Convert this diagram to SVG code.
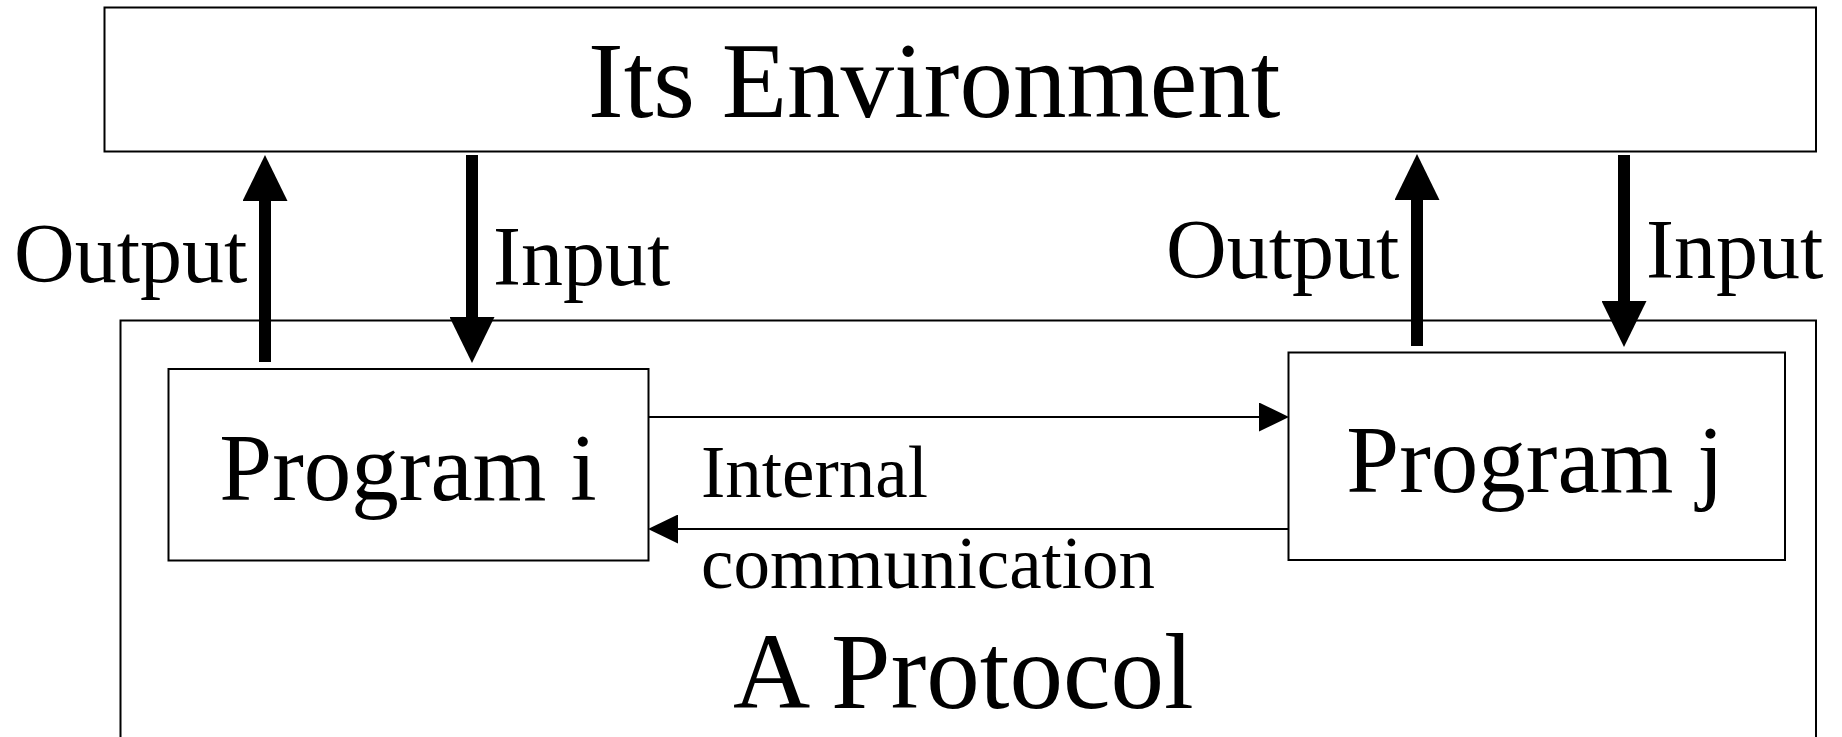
<svg xmlns="http://www.w3.org/2000/svg" width="1842" height="737" viewBox="0 0 1842 737">
<style>
.box{fill:#fff;stroke:#000;stroke-width:2}
.t{font-family:"Liberation Serif","Times New Roman",serif;fill:#000}
.thick{stroke:#000;stroke-width:12;fill:none}
.thin{stroke:#000;stroke-width:2;fill:none}
</style>
<defs>
<marker id="big" viewBox="0 0 46 45" refX="0" refY="22.5" markerWidth="46" markerHeight="45" markerUnits="userSpaceOnUse" orient="auto"><path d="M0,0 L46,22.5 L0,45 z" fill="#000"/></marker>
<marker id="small" viewBox="0 0 30 29" refX="0" refY="14.5" markerWidth="30" markerHeight="29" markerUnits="userSpaceOnUse" orient="auto"><path d="M0,0 L30,14.5 L0,29 z" fill="#000"/></marker>
</defs>
<rect width="1842" height="737" fill="#fff"/>
<g id="environment">
<rect class="box" x="104.5" y="7.5" width="1711.5" height="144"/>
<text class="t" x="588" y="117" font-size="107">Its Environment</text>
</g>
<g id="protocol">
<rect class="box" x="120.5" y="320.5" width="1695.5" height="440"/>
<text class="t" x="733" y="708" font-size="107">A Protocol</text>
</g>
<g id="program-i">
<rect class="box" x="168.5" y="369" width="480" height="191.5"/>
<text class="t" x="408" y="500" font-size="95" text-anchor="middle">Program i</text>
</g>
<g id="program-j">
<rect class="box" x="1288.5" y="352.5" width="496.5" height="207.5"/>
<text class="t" x="1535" y="492" font-size="95" text-anchor="middle">Program j</text>
</g>
<g id="connectors">
<line class="thick" x1="265" y1="362" x2="265" y2="201" marker-end="url(#big)"/>
<line class="thick" x1="472" y1="155" x2="472" y2="317" marker-end="url(#big)"/>
<line class="thick" x1="1417" y1="346" x2="1417" y2="200" marker-end="url(#big)"/>
<line class="thick" x1="1624" y1="155" x2="1624" y2="301" marker-end="url(#big)"/>
<line class="thin" x1="649" y1="417" x2="1259" y2="417" marker-end="url(#small)"/>
<line class="thin" x1="1288" y1="529" x2="678" y2="529" marker-end="url(#small)"/>
<text class="t" x="14" y="282" font-size="84">Output</text>
<text class="t" x="493" y="285" font-size="84">Input</text>
<text class="t" x="1166" y="278" font-size="84">Output</text>
<text class="t" x="1646" y="278" font-size="84">Input</text>
<text class="t" x="701" y="497" font-size="73">Internal</text>
<text class="t" x="701" y="588" font-size="73">communication</text>
</g>
</svg>
